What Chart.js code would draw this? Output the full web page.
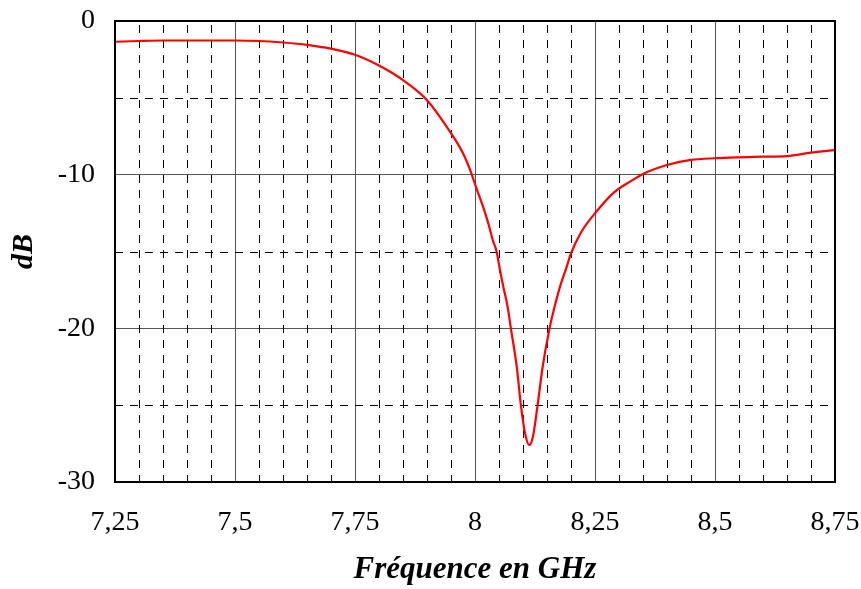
<!DOCTYPE html>
<html>
<head>
<meta charset="utf-8">
<script src="https://cdn.jsdelivr.net/npm/chart.js@4/dist/chart.umd.min.js"></script>
<style>
  html, body { margin: 0; padding: 0; background: #fff; }
  #wrap { width: 861px; height: 589px; }
</style>
</head>
<body>
<div id="wrap"><canvas id="myChart" width="861" height="589"></canvas></div>
<script>
// frequency sweep (GHz) and reflection level (dB)
const freqGHz = [7.25, 7.30, 7.35, 7.40, 7.45, 7.50, 7.55, 7.60, 7.65, 7.70, 7.75, 7.80, 7.85, 7.90,
  7.95, 7.975, 7.99, 8.002, 8.017, 8.028, 8.037, 8.045, 8.052, 8.059, 8.068, 8.075, 8.087, 8.096,
  8.104, 8.113, 8.121, 8.130, 8.141, 8.155, 8.165, 8.177, 8.191, 8.199, 8.222, 8.253, 8.288, 8.323,
  8.35, 8.40, 8.45, 8.50, 8.55, 8.60, 8.65, 8.70, 8.75];
const levelDB = [-1.35, -1.30, -1.27, -1.27, -1.27, -1.27, -1.30, -1.40, -1.55, -1.80, -2.20, -2.90,
  -3.85, -5.15, -7.30, -8.60, -9.70, -10.80, -12.10, -13.20, -14.25, -15.00, -16.20, -17.30, -18.60,
  -20.05, -22.50, -25.10, -26.80, -27.60, -27.00, -25.10, -22.50, -20.05, -18.70, -17.30, -16.00,
  -15.20, -13.70, -12.40, -11.20, -10.45, -9.95, -9.37, -9.04, -8.93, -8.87, -8.83, -8.79, -8.57, -8.40];

const xMin = 7.25, xMax = 8.75, xMajor = 0.25, xMinor = 0.05;
const yMin = -30, yMax = 0, yMajor = 10, yMinor = 5;

const serif = 'Liberation Serif, Times New Roman, serif';

// dashed minor grid + frame around the plot
const minorGrid = {
  id: 'minorGrid',
  beforeDatasetsDraw(chart) {
    const { ctx, chartArea: a, scales: { x, y } } = chart;
    ctx.save();
    ctx.strokeStyle = '#000';
    ctx.lineWidth = 1;
    ctx.setLineDash([8, 7]);
    const nx = Math.round((xMax - xMin) / xMinor);
    for (let i = 1; i < nx; i++) {
      if (i % Math.round(xMajor / xMinor) === 0) continue;
      const px = Math.round(x.getPixelForValue(xMin + i * xMinor)) + 0.5;
      ctx.beginPath();
      ctx.moveTo(px, a.top + 4);
      ctx.lineTo(px, a.bottom);
      ctx.stroke();
    }
    const ny = Math.round((yMax - yMin) / yMinor);
    for (let j = 1; j < ny; j++) {
      if (j % Math.round(yMajor / yMinor) === 0) continue;
      const py = Math.round(y.getPixelForValue(yMin + j * yMinor)) + 0.5;
      ctx.beginPath();
      ctx.moveTo(a.left, py);
      ctx.lineTo(a.right, py);
      ctx.stroke();
    }
    ctx.restore();
  },
  afterDraw(chart) {
    const { ctx, chartArea: a } = chart;
    ctx.save();
    ctx.strokeStyle = '#000';
    ctx.lineWidth = 2;
    ctx.strokeRect(a.left, a.top, a.right - a.left, a.bottom - a.top);
    ctx.restore();
  }
};

const ctx = document.getElementById('myChart').getContext('2d');
const chart = new Chart(ctx, {
  type: 'line',
  data: {
    datasets: [{
      data: freqGHz.map((f, i) => ({ x: f, y: levelDB[i] })),
      borderColor: 'rgb(255, 0, 0)',
      borderWidth: 2.2,
      pointRadius: 0,
      cubicInterpolationMode: 'monotone',
      fill: false
    }]
  },
  options: {
    responsive: false,
    animation: false,
    layout: { padding: { top: 21, right: 26, left: 0, bottom: 0 } },
    plugins: { legend: { display: false }, tooltip: { enabled: false } },
    scales: {
      x: {
        type: 'linear',
        min: xMin,
        max: xMax,
        afterFit(scale) {
          scale.height = 107;
          scale.paddingLeft = 0;
          scale.paddingRight = 0;
        },
        ticks: {
          stepSize: xMajor,
          padding: 24,
          color: '#000',
          font: { family: serif, size: 28 },
          maxRotation: 0,
          callback: v => String(Math.round(v * 100) / 100).replace('.', ',')
        },
        grid: { color: '#555', lineWidth: 1, drawTicks: false },
        border: { display: false },
        title: {
          display: true,
          text: 'Fréquence en GHz',
          color: '#000',
          font: { family: serif, size: 31, weight: 'bold', style: 'italic' },
          padding: { top: 0, bottom: 0 }
        }
      },
      y: {
        min: yMin,
        max: yMax,
        afterFit(scale) {
          scale.width = 115;
          scale.paddingTop = 0;
          scale.paddingBottom = 0;
        },
        ticks: {
          stepSize: yMajor,
          padding: 20,
          color: '#000',
          font: { family: serif, size: 28 }
        },
        grid: { color: '#555', lineWidth: 1, drawTicks: false },
        border: { display: false },
        title: {
          display: true,
          text: 'dB',
          color: '#000',
          font: { family: serif, size: 30, weight: 'bold', style: 'italic' },
          padding: { top: 6, bottom: 0 }
        }
      }
    }
  },
  plugins: [minorGrid]
});
</script>
</body>
</html>
